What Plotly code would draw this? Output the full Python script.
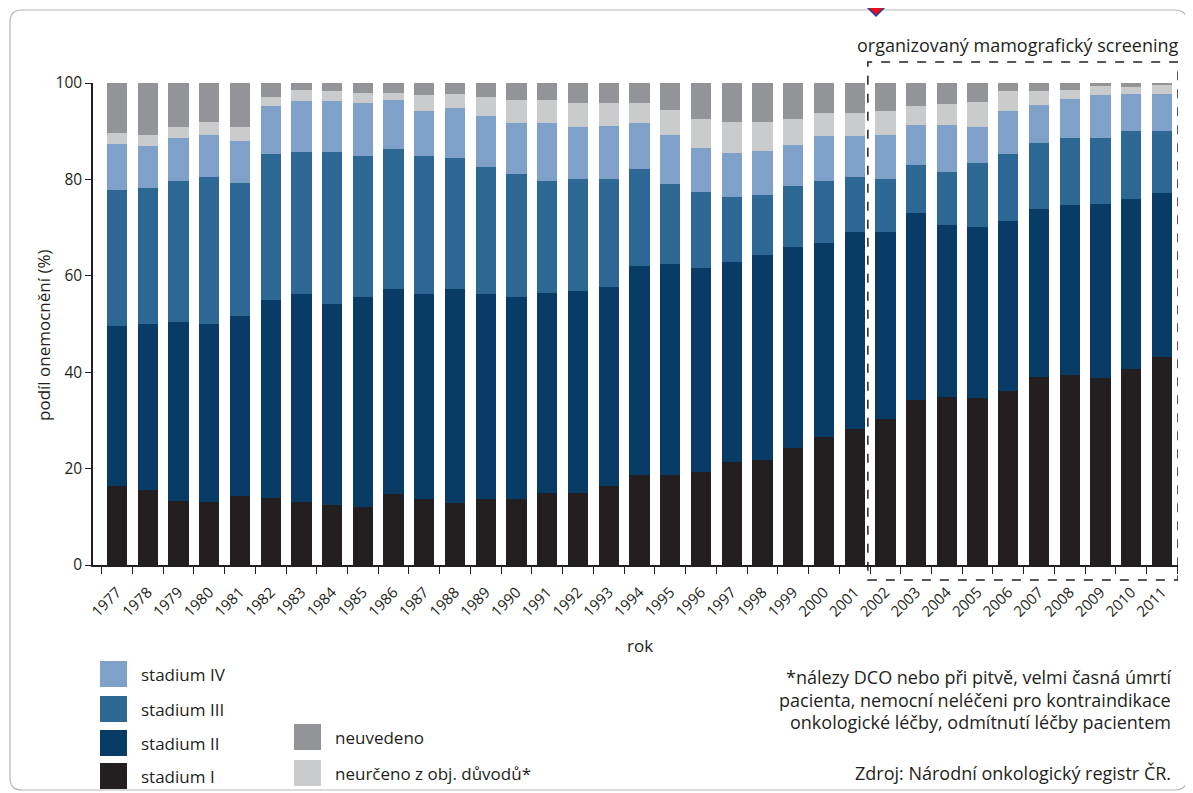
import plotly.graph_objects as go

years = list(range(1977, 2012))
year_labels = [str(y) for y in years]

stadium_I = [16.4, 15.5, 13.2, 13.0, 14.3, 14.0, 13.0, 12.4, 12.0, 14.8, 13.6, 12.9, 13.6, 13.6, 15.0, 15.0, 16.4, 18.6, 18.6, 19.2,
             21.3, 21.7, 24.3, 26.5, 28.3, 30.2, 34.2, 34.8, 34.7, 36.1, 39.0, 39.5, 38.9, 40.6, 43.2]
stadium_II = [33.2, 34.5, 37.2, 37.0, 37.3, 41.0, 43.2, 41.7, 43.5, 42.5, 42.6, 44.4, 42.6, 41.9, 41.5, 41.9, 41.2, 43.4, 43.8, 42.5,
              41.5, 42.6, 41.7, 40.4, 40.7, 38.8, 38.9, 35.8, 35.4, 35.2, 34.9, 35.1, 36.1, 35.4, 33.9]
stadium_III = [28.2, 28.2, 29.3, 30.4, 27.7, 30.2, 29.4, 31.5, 29.3, 29.0, 28.6, 27.2, 26.4, 25.6, 23.2, 23.2, 22.5, 20.2, 16.6, 15.7,
               13.6, 12.4, 12.6, 12.7, 11.4, 11.1, 9.9, 11.0, 13.3, 14.0, 13.6, 13.9, 13.5, 14.0, 12.9]
stadium_IV = [9.5, 8.8, 8.8, 8.9, 8.7, 10.0, 10.6, 10.6, 11.1, 10.2, 9.3, 10.3, 10.5, 10.7, 12.1, 10.7, 11.0, 9.6, 10.3, 9.2,
              9.1, 9.1, 8.5, 9.4, 8.6, 9.2, 8.2, 9.6, 7.4, 8.8, 8.0, 8.2, 9.0, 7.8, 7.8]
neurceno = [2.3, 2.2, 2.3, 2.6, 2.8, 1.9, 2.3, 2.1, 2.0, 1.4, 3.5, 2.9, 4.0, 4.7, 4.7, 5.1, 4.8, 4.1, 5.2, 5.9,
            6.4, 6.1, 5.5, 4.8, 4.8, 4.8, 4.0, 4.4, 5.2, 4.2, 2.8, 1.9, 1.8, 1.4, 1.7]
neuvedeno = [10.4, 10.8, 9.2, 8.1, 9.2, 2.9, 1.5, 1.7, 2.1, 2.1, 2.4, 2.3, 2.9, 3.5, 3.5, 4.1, 4.1, 4.1, 5.5, 7.5,
             8.1, 8.1, 7.4, 6.2, 6.2, 5.9, 4.8, 4.4, 4.0, 1.7, 1.7, 1.4, 0.7, 0.8, 0.5]

y_ticks = [0, 20, 40, 60, 80, 100]
screening_start, screening_end = 2002, 2011

series = [
    ("stadium I", stadium_I, "#231f20"),
    ("stadium II", stadium_II, "#083c66"),
    ("stadium III", stadium_III, "#2d6894"),
    ("stadium IV", stadium_IV, "#7fa0c8"),
    ("neurčeno z obj. důvodů*", neurceno, "#c9cbcd"),
    ("neuvedeno", neuvedeno, "#929497"),
]

OFF = 8  # page body margin
W, H = 1193 - OFF, 793 - OFF
L, R, T, B = 93 - OFF, 1178 - OFF, 83 - OFF, 565 - OFF
FONT = "Open Sans, Noto Sans, Liberation Sans, Arial"
TXT = "#231f20"


def px(xp):
    return (xp - OFF - L) / (R - L)


def py(yp):
    return (B - (yp - OFF)) / (B - T)


fig = go.Figure()
for name, vals, col in series:
    fig.add_trace(go.Bar(x=years, y=vals, name=name, marker=dict(color=col, line=dict(width=0)),
                         width=0.66, showlegend=False))

shapes = []
annotations = []

# outer rounded frame
x0, x1, y0, y1 = px(10), px(1187), py(10), py(790)
rx, ry = 12 / (R - L), 12 / (B - T)
shapes.append(dict(type="path", xref="paper", yref="paper",
                   path=(f"M {x0+rx},{y0} L {x1-rx},{y0} Q {x1},{y0} {x1},{y0-ry} "
                         f"L {x1},{y1+ry} Q {x1},{y1} {x1-rx},{y1} L {x0+rx},{y1} "
                         f"Q {x0},{y1} {x0},{y1+ry} L {x0},{y0-ry} Q {x0},{y0} {x0+rx},{y0} Z"),
                   line=dict(color="#b5b5b5", width=1.2)))

# dashed screening box
shapes.append(dict(type="rect", xref="x", yref="paper", x0=screening_start - 0.57, x1=screening_end + 0.52,
                   y0=py(580), y1=py(62), line=dict(color=TXT, width=1.5, dash="dash")))
annotations.append(dict(text="organizovaný mamografický screening", xref="paper", yref="paper",
                        x=px(1181), y=py(45), xanchor="right", yanchor="middle", showarrow=False,
                        font=dict(size=18, color=TXT, family=FONT)))

# red diamond marker at top (artifact of reference)
cx, cy, s = 876, 4, 12
shapes.append(dict(type="path", xref="paper", yref="paper",
                   path=f"M {px(cx)},{py(cy-s)} L {px(cx+s)},{py(cy)} L {px(cx)},{py(cy+s)} L {px(cx-s)},{py(cy)} Z",
                   fillcolor="#e8101c", line=dict(color="#1e3c9a", width=1.5)))

# axis titles
annotations.append(dict(text="rok", xref="paper", yref="paper", x=px(640), y=py(645),
                        xanchor="center", yanchor="middle", showarrow=False,
                        font=dict(size=17, color=TXT, family=FONT)))
annotations.append(dict(text="podíl onemocnění (%)", xref="paper", yref="paper", x=px(43), y=py(335),
                        xanchor="center", yanchor="middle", textangle=-90, showarrow=False,
                        font=dict(size=17, color=TXT, family=FONT)))

# custom legend
legend_left = [("stadium IV", "#7fa0c8", 661), ("stadium III", "#2d6894", 696),
               ("stadium II", "#083c66", 730), ("stadium I", "#231f20", 763)]
for name, col, ytop in legend_left:
    shapes.append(dict(type="rect", xref="paper", yref="paper", x0=px(100), x1=px(127),
                       y0=py(ytop + 26), y1=py(ytop), fillcolor=col, line=dict(width=0)))
    annotations.append(dict(text=name, xref="paper", yref="paper", x=px(139), y=py(ytop + 13),
                            xanchor="left", yanchor="middle", showarrow=False,
                            font=dict(size=17, color=TXT, family=FONT)))
legend_mid = [("neuvedeno", "#929497", 724), ("neurčeno z obj. důvodů*", "#c9cbcd", 760)]
for name, col, ytop in legend_mid:
    shapes.append(dict(type="rect", xref="paper", yref="paper", x0=px(294), x1=px(321),
                       y0=py(ytop + 26), y1=py(ytop), fillcolor=col, line=dict(width=0)))
    annotations.append(dict(text=name, xref="paper", yref="paper", x=px(333), y=py(ytop + 13),
                            xanchor="left", yanchor="middle", showarrow=False,
                            font=dict(size=17, color=TXT, family=FONT)))

notes = ["*nálezy DCO nebo při pitvě, velmi časná úmrtí",
         "pacienta, nemocní neléčeni pro kontraindikace",
         "onkologické léčby, odmítnutí léčby pacientem"]
for i, t in enumerate(notes):
    annotations.append(dict(text=t, xref="paper", yref="paper", x=px(1173), y=py(677 + 22.5 * i),
                            xanchor="right", yanchor="middle", showarrow=False,
                            font=dict(size=18, color=TXT, family=FONT)))
annotations.append(dict(text="Zdroj: Národní onkologický registr ČR.", xref="paper", yref="paper",
                        x=px(1173), y=py(773), xanchor="right", yanchor="middle", showarrow=False,
                        font=dict(size=18, color=TXT, family=FONT)))

fig.update_layout(
    width=W, height=H,
    margin=dict(l=L, r=W - R, t=T, b=H - B, autoexpand=False),
    barmode="stack",
    plot_bgcolor="white", paper_bgcolor="white",
    font=dict(family=FONT, color=TXT, size=14),
    shapes=shapes, annotations=annotations,
    xaxis=dict(range=[1976.22, 2011.52], tickmode="array", tickvals=years, ticktext=year_labels,
               tickangle=-45, ticks="", showline=True, linecolor=TXT, linewidth=1.5,
               showgrid=False, zeroline=False, tickfont=dict(size=15, family=FONT),
               ticklabelstandoff=11,
               minor=dict(tickmode="linear", tick0=1976.5, dtick=1, ticks="outside", ticklen=7,
                          tickcolor=TXT, tickwidth=1, showgrid=False)),
    yaxis=dict(range=[0, 100], tickmode="array", tickvals=y_ticks, ticks="outside", ticklen=6,
               tickcolor=TXT, showline=True, linecolor=TXT, linewidth=1.5,
               showgrid=False, zeroline=False, tickfont=dict(size=15.5, family=FONT)),
)

fig.write_html("out.html")
